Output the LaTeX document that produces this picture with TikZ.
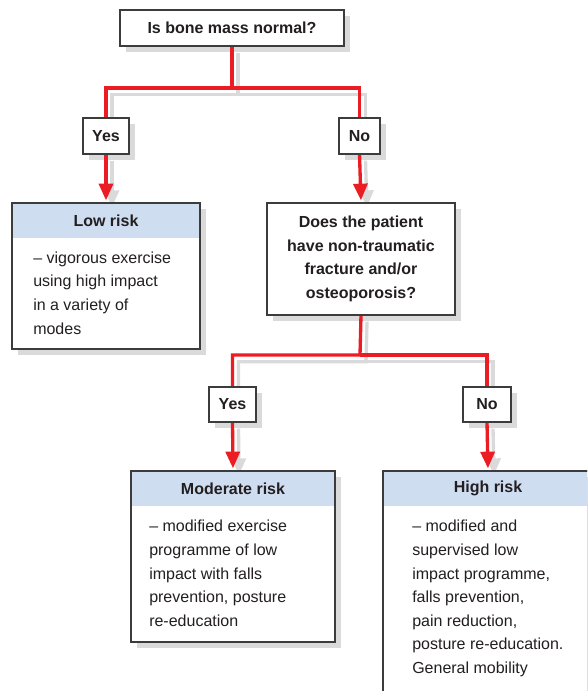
\documentclass[tikz,border=0pt]{standalone}
\usepackage{fontspec}
\setmainfont{Liberation Sans}
\usetikzlibrary{fit,arrows.meta}
\pgfdeclarelayer{shadowlayer}
\pgfdeclarelayer{linelayer}
\pgfsetlayers{shadowlayer,linelayer,main}
\definecolor{redc}{RGB}{236,28,36}
\definecolor{headc}{RGB}{207,221,241}
\definecolor{shadc}{RGB}{218,218,218}
\definecolor{bordc}{RGB}{60,60,60}
\definecolor{txtc}{RGB}{35,31,32}
\newcommand{\connpaths}[1]{%
  \draw[#1] (top.south) -- (j1) -| (yes1.north);
  \draw[#1] (j1) -| (no1.north);
  \draw[#1,arr] (yes1.south) -- (low.north);
  \draw[#1,arr] (no1.south) -- (q2.north);
  \draw[#1] (q2.south) -- (j2) -| (yes2.north);
  \draw[#1] (j2) -| (no2.north);
  \draw[#1,arr] (yes2.south) -- (mod.north);
  \draw[#1,arr] (no2.south) -- (high.north);
}
\begin{document}
\begin{tikzpicture}[x=0.75pt,y=-0.75pt,
  box/.style={inner sep=0pt, outer sep=0pt, fill=white, draw=bordc, line width=0.8pt},
  qtext/.style={font=\bfseries\fontsize{12pt}{17.6pt}\selectfont, text=txtc, align=center, inner sep=0pt},
  body/.style={font=\fontsize{12pt}{17.7pt}\selectfont, text=txtc, align=left, inner sep=0pt, anchor=north west},
  head/.style={inner sep=0pt, outer sep=0pt, fill=headc},
  redline/.style={draw=redc, line width=2.5pt},
  shadline/.style={draw=shadc, line width=2.5pt},
  arr/.style={-{Triangle[length=12.5pt,width=10.5pt]}, shorten >=2pt},
]
\useasboundingbox (0,0) rectangle (587,691);
\clip (0,0) rectangle (587,691);

% boxes
\node[box, fit={(120,10) (344,46)}] (top) {};
\node[box, fit={(83,118) (129,154)}] (yes1) {};
\node[box, fit={(339,118) (380,154)}] (no1) {};
\node[box, fit={(12,203) (200,349)}] (low) {};
\node[box, fit={(267,203) (455,315)}] (q2) {};
\node[box, fit={(209,387) (256,422)}] (yes2) {};
\node[box, fit={(463,387) (511,422)}] (no2) {};
\node[box, fit={(131,471) (335,642)}] (mod) {};
\node[box, fit={(383,471) (593,730)}] (high) {};

% headers
\node[head, fit={(12,203) (200,238)}] (lowh) {};
\node[head, fit={(131,471) (335,506)}] (modh) {};
\node[head, fit={(383,471) (593,506)}] (highh) {};
\draw[bordc, line width=0.8pt] (low.north west) rectangle (low.south east);
\draw[bordc, line width=0.8pt] (mod.north west) rectangle (mod.south east);
\draw[bordc, line width=0.8pt] (high.north west) rectangle (high.south east);

% texts in boxes
\node[qtext] (topt) at (top.center) {Is bone mass normal?};
\node[qtext] (yes1t) at (yes1.center) {Yes};
\node[qtext] (no1t) at (no1.center) {No};
\node[qtext] (q2t) at (q2.center) {Does the patient\\have non-traumatic\\fracture and/or\\osteoporosis?};
\node[qtext] (yes2t) at (yes2.center) {Yes};
\node[qtext] (no2t) at (no2.center) {No};
\node[qtext] (lowht) at (106,220.5) {Low risk};
\node[qtext] (modht) at (233,488.5) {Moderate risk};
\node[qtext] (highht) at (488,488.5) {High risk};

% body texts
\node[body] (lowt) at (33,251.5) {– vigorous exercise\\using high impact\\in a variety of\\modes};
\node[body] (modt) at (149,520) {– modified exercise\\programme of low\\impact with falls\\prevention, posture\\re-education};
\node[body] (hight) at (412,520) {– modified and\\supervised low\\impact programme,\\falls prevention,\\pain reduction,\\posture re-education.\\General mobility};

% junctions
\coordinate (j1) at (232,88);
\coordinate (j2) at (360,355);

% connectors
\begin{pgfonlayer}{linelayer}
  \connpaths{redline}
\end{pgfonlayer}
\begin{pgfonlayer}{shadowlayer}
  \foreach \n in {top,yes1,no1,low,q2,yes2,no2,mod,high}{
    \fill[shadc] ([shift={(6,6)}]\n.south west) rectangle ([shift={(6,6)}]\n.north east);
  }
  \begin{scope}[transform canvas={shift={(4.5pt,-5pt)}}]
    \connpaths{shadline}
  \end{scope}
\end{pgfonlayer}
\end{tikzpicture}
\end{document}
